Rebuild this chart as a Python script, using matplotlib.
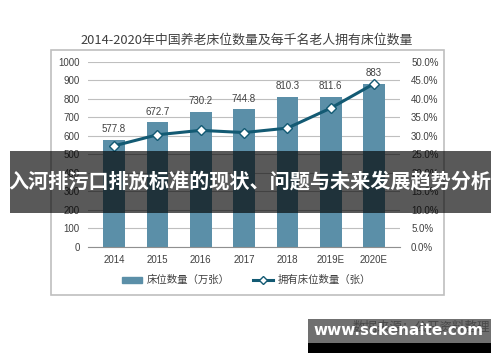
import matplotlib.pyplot as plt
from matplotlib.patches import Rectangle
from matplotlib.lines import Line2D

plt.rcParams['font.family'] = ['Liberation Sans', 'Noto Sans CJK SC', 'DejaVu Sans']

years = ['2014', '2015', '2016', '2017', '2018', '2019E', '2020E']
beds = [577.8, 672.7, 730.2, 744.8, 810.3, 811.6, 883]
per_thousand = [27.3, 30.3, 31.5, 30.9, 32.1, 37.5, 44.1]

BAR_COLOR = '#5b8fa8'
LINE_COLOR = '#135a73'
GRID_COLOR = '#bfbfbf'
TEXT_COLOR = '#404040'

fig = plt.figure(figsize=(5, 3.62), dpi=100)

# 外框
fig.patches.append(Rectangle((0.102, 0.185), 0.786, 0.677, transform=fig.transFigure,
                             fill=False, edgecolor='#bfbfbf', linewidth=1.2))

ax = fig.add_axes([0.176, 0.318, 0.624, 0.511])
x = range(len(years))
ax.bar(x, beds, width=0.5, color=BAR_COLOR, zorder=2)
for i, v in enumerate(beds):
    ax.annotate('%g' % v, (i, v), xytext=(0, 4), textcoords='offset points',
                ha='center', va='bottom', fontsize=7, color=TEXT_COLOR)

ax.set_ylim(0, 1000)
ax.set_yticks(range(0, 1001, 100))
ax.set_xlim(-0.6, len(years) - 0.4)
ax.set_xticks(list(x))
ax.set_xticklabels(years)
ax.grid(axis='y', color=GRID_COLOR, linewidth=0.8, zorder=0)
for s in ['top', 'right', 'left']:
    ax.spines[s].set_visible(False)
ax.spines['bottom'].set_color('#909090')
ax.tick_params(axis='both', length=0, labelsize=7, colors=TEXT_COLOR, pad=6)

ax2 = ax.twinx()
ax2.plot(list(x), per_thousand, color=LINE_COLOR, linewidth=2.2, marker='D',
         markersize=5, markerfacecolor='white', markeredgecolor=LINE_COLOR,
         markeredgewidth=1, zorder=3)
ax2.set_ylim(0, 50)
ax2.set_yticks(range(0, 51, 5))
ax2.set_yticklabels(['%.1f%%' % t for t in range(0, 51, 5)])
for s in ax2.spines.values():
    s.set_visible(False)
ax2.tick_params(axis='y', length=0, labelsize=7, colors=TEXT_COLOR, pad=8)

fig.text(0.494, 0.89, '2014-2020年中国养老床位数量及每千名老人拥有床位数量',
         ha='center', va='center', fontsize=9.3, color=TEXT_COLOR,
         family=['Noto Sans CJK SC', 'DejaVu Sans'])

handles = [Rectangle((0, 0), 1, 1, color=BAR_COLOR),
           Line2D([0], [0], color=LINE_COLOR, linewidth=2.2, marker='D', markersize=4,
                  markerfacecolor='white', markeredgecolor=LINE_COLOR)]
leg = fig.legend(handles, ['床位数量（万张）', '拥有床位数量（张）'], loc='center',
                 bbox_to_anchor=(0.493, 0.226), ncol=2, frameon=False,
                 handlelength=1.9, handleheight=0.5, handletextpad=0.5,
                 columnspacing=2.2,
                 prop={'family': ['Noto Sans CJK SC', 'DejaVu Sans'], 'size': 7.5})
for t in leg.get_texts():
    t.set_color(TEXT_COLOR)

# 横幅
fig.patches.append(Rectangle((0.02, 0.412), 0.962, 0.172, transform=fig.transFigure,
                             facecolor='black', alpha=0.65, zorder=10))
fig.text(0.5, 0.497, '入河排污口排放标准的现状、问题与未来发展趋势分析',
         ha='center', va='center', fontsize=14.5, color='white', fontweight='bold',
         family=['Noto Sans CJK SC', 'DejaVu Sans'], zorder=11)

# 水印
fig.text(0.98, 0.095, '数据来源：公开资料整理', ha='right', va='center', fontsize=9,
         color='#606060', family=['Noto Sans CJK SC', 'DejaVu Sans'], zorder=9)
fig.patches.append(Rectangle((0.616, 0.052), 0.366, 0.067, transform=fig.transFigure,
                             facecolor='#404040', alpha=0.75, zorder=10))
fig.patches.append(Rectangle((0.616, 0.025), 0.366, 0.028, transform=fig.transFigure,
                             facecolor='black', zorder=10))
fig.text(0.798, 0.086, 'www.sckenaite.com', ha='center', va='center', fontsize=11,
         color='white', fontweight='bold', family=['DejaVu Sans'], zorder=11)

fig.savefig('out.png', dpi=100)
